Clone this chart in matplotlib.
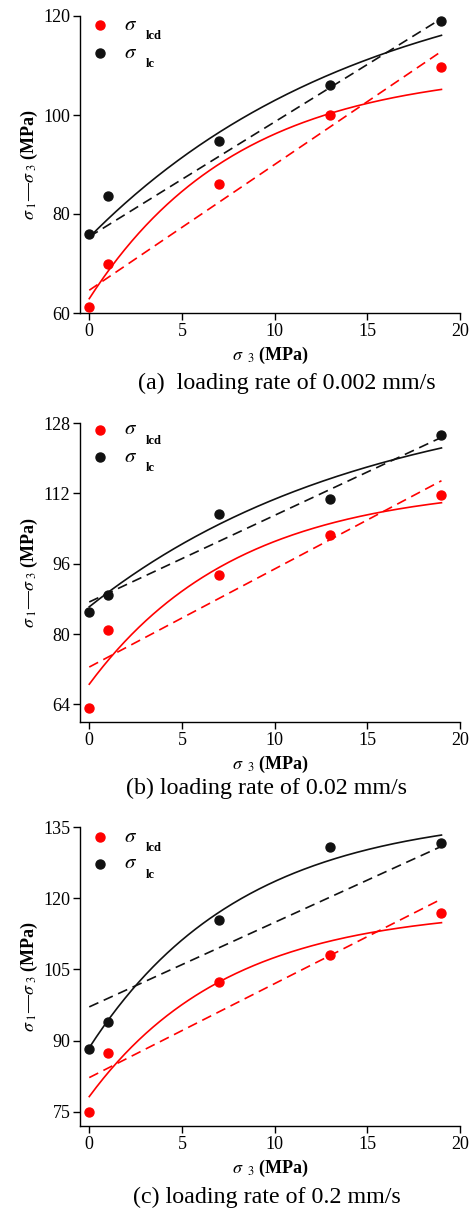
import numpy as np
import matplotlib
matplotlib.use('Agg')
import matplotlib.pyplot as plt

plt.rcParams['font.family'] = 'Liberation Serif'
plt.rcParams['mathtext.fontset'] = 'stix'

W, H = 470, 1213

# confining pressure (MPa)
sigma3 = [0, 1, 7, 13, 19]

# peak deviatoric strength, sigma_lcd (red) and sigma_lc (black)
lcd_a = [61.2, 70.0, 86.0, 100.0, 109.7]
lc_a = [75.9, 83.6, 94.8, 106.0, 119.0]
lcd_b = [63.2, 80.9, 93.5, 102.6, 111.7]
lc_b = [85.1, 88.8, 107.2, 110.7, 125.3]
lcd_c = [75.0, 87.3, 102.4, 108.1, 116.9]
lc_c = [88.3, 93.9, 115.4, 130.8, 131.7]

# linear fits: (intercept, slope)
lin_lcd = [(64.6, 2.54), (72.5, 2.23), (82.2, 1.98)]
lin_lc = [(75.4, 2.32), (87.3, 1.97), (97.1, 1.78)]

# exponential fits y = A - B*exp(-x/c): (A, B, c)
exp_lcd = [(109.5, 46.6, 8.0), (114.1, 45.5, 8.0), (118.0, 39.8, 7.5)]
exp_lc = [(132.1, 56.8, 15.0), (136.5, 50.3, 15.0), (138.2, 49.7, 8.2)]

ylims = [(60, 120), (60, 128), (72, 135)]
yticks = [[60, 80, 100, 120], [64, 80, 96, 112, 128], [75, 90, 105, 120, 135]]
captions = ['(a)  loading rate of 0.002 mm/s',
            '(b) loading rate of 0.02 mm/s',
            '(c) loading rate of 0.2 mm/s']
boxes = [(80, 16, 460, 313), (80, 423, 460, 722), (80, 827, 460, 1126)]
cap_pos = [(287, 383), (267, 788), (267, 1197)]
leg_rows = [(9, 37), (7, 34), (10, 37)]

red = '#ff0000'
blk = '#111111'

fig = plt.figure(figsize=(W / 100, H / 100), dpi=100)

data = [(lcd_a, lc_a), (lcd_b, lc_b), (lcd_c, lc_c)]
xs = np.linspace(0, 19, 200)

for i, (l, t, r, b) in enumerate(boxes):
    ax = fig.add_axes([l / W, 1 - b / H, (r - l) / W, (b - t) / H])
    lcd, lc = data[i]
    h = b - t

    for (A, B, c), col in [(exp_lcd[i], red), (exp_lc[i], blk)]:
        ax.plot(xs, A - B * np.exp(-xs / c), color=col, lw=1.2)
    for (a0, k), col in [(lin_lcd[i], red), (lin_lc[i], blk)]:
        ax.plot([0, 19], [a0, a0 + 19 * k], color=col, lw=1.2,
                ls=(0, (6, 3.5)))

    ax.scatter(sigma3, lcd, s=42, color=red, zorder=5, clip_on=False)
    ax.scatter(sigma3, lc, s=42, color=blk, zorder=5, clip_on=False)

    ax.set_xlim(-0.5, 20)
    ax.set_ylim(*ylims[i])
    ax.set_xticks([0, 5, 10, 15, 20])
    ax.set_yticks(yticks[i])
    for s in ['top', 'right']:
        ax.spines[s].set_visible(False)
    for s in ['left', 'bottom']:
        ax.spines[s].set_linewidth(1.0)
    ax.tick_params(direction='out', length=5, width=1.0, labelsize=13,
                   pad=2)

    ax.set_xlabel(r'$\sigma_{\ \ 3}$ (MPa)', fontsize=13, labelpad=4,
                  fontweight='bold')
    ax.set_ylabel(r'$\sigma_{\ 1}$—$\sigma_{\ 3}$ (MPa)', fontsize=13,
                  labelpad=2, fontweight='bold')

    # legend drawn by hand so the subscripts sit low like the series names
    for row, col, sub in [(0, red, 'lcd'), (1, blk, 'lc')]:
        yy = 1 - leg_rows[i][row] / h
        ax.plot([0.053], [yy], 'o', color=col, markersize=6.5,
                transform=ax.transAxes, clip_on=False)
        ax.text(0.115, yy, r'$\sigma$', transform=ax.transAxes,
                fontsize=15, va='center', ha='left')
        ax.text(0.172, yy - 11 / h, sub, transform=ax.transAxes,
                fontsize=9, fontweight='bold', va='center', ha='left')

    cx, cy = cap_pos[i]
    fig.text(cx / W, 1 - cy / H, captions[i], ha='center', va='center',
             fontsize=17.3)

fig.savefig('out.png', dpi=100)
